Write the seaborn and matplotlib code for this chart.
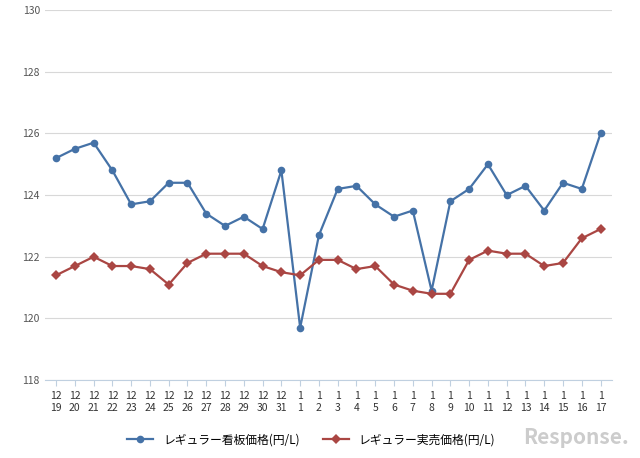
import matplotlib
matplotlib.use("Agg")
import matplotlib.pyplot as plt
import seaborn as sns
import pandas as pd

months = ["12"]*13 + ["1"]*17
days = list(range(19, 32)) + list(range(1, 18))
tick_labels = [f"{m}\n{d}" for m, d in zip(months, days)]
blue = [125.2,125.5,125.7,124.8,123.7,123.8,124.4,124.4,123.4,123.0,123.3,122.9,124.8,119.7,122.7,124.2,124.3,123.7,123.3,123.5,120.9,123.8,124.2,125.0,124.0,124.3,123.5,124.4,124.2,126.0]
red = [121.4,121.7,122.0,121.7,121.7,121.6,121.1,121.8,122.1,122.1,122.1,121.7,121.5,121.4,121.9,121.9,121.6,121.7,121.1,120.9,120.8,120.8,121.9,122.2,122.1,122.1,121.7,121.8,122.6,122.9]
names = ["レギュラー看板価格(円/L)", "レギュラー実売価格(円/L)"]

plt.rcParams["font.family"] = ["Noto Sans CJK JP", "DejaVu Sans"]
fig = plt.figure(figsize=(6.4, 4.58), dpi=100)
ax = fig.add_axes([0.07, 0.17, 0.886, 0.808])
x = list(range(len(tick_labels)))
df = pd.DataFrame({"x": x*2, "v": blue+red, "s": [names[0]]*30 + [names[1]]*30})
sns.lineplot(data=df, x="x", y="v", hue="s", style="s", markers=["o", "D"], dashes=False,
             palette=["#4572a7", "#aa4643"], markersize=5.5, markeredgewidth=0, linewidth=1.6, ax=ax)
ax.set_ylim(118, 130)
ax.set_yticks(range(118, 131, 2))
ax.set_xlim(-0.6, 29.6)
ax.set_xticks(x)
ax.set_xticklabels(tick_labels, fontsize=7.5, color="#333333", linespacing=1.3)
ax.tick_params(axis="y", labelsize=7.5, colors="#555555", length=0)
ax.tick_params(axis="x", length=4, color="#c0d0e0")
ax.grid(axis="y", color="#d8d8d8", linewidth=0.8)
for s in ["top", "right", "left"]:
    ax.spines[s].set_visible(False)
ax.spines["bottom"].set_color("#c0d0e0")
ax.set_xlabel(""); ax.set_ylabel("")
ax.legend(loc="upper center", bbox_to_anchor=(0.47, -0.115), ncol=2, frameon=False, fontsize=8.5, handlelength=2.2)
fig.text(0.9, 0.03, "Response.", fontsize=15, color="#cccccc", ha="center", style="italic", weight="bold")
fig.savefig("out.png", dpi=100)
